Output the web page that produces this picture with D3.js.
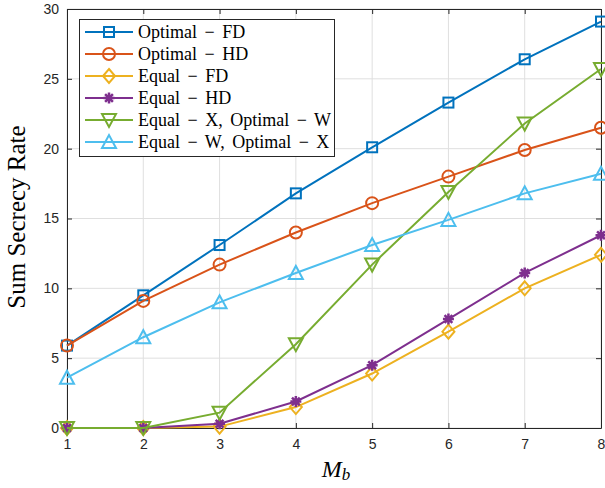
<!DOCTYPE html>
<html><head><meta charset="utf-8">
<script src="https://cdn.jsdelivr.net/npm/d3@7"></script>
<style>body{margin:0;background:#fff}svg{display:block}</style>
</head><body><svg id="c" width="605" height="488"></svg>
<script>
const xValues = [1,2,3,4,5,6,7,8];
const seriesNames = ["Optimal − FD","Optimal − HD","Equal − FD","Equal − HD","Equal − X, Optimal − W","Equal − W, Optimal − X"];
const optimalFD = [5.9,9.5,13.1,16.8,20.1,23.3,26.4,29.1];
const optimalHD = [5.9,9.1,11.7,14.0,16.1,18.0,19.9,21.5];
const equalFD = [0,0,0.1,1.5,3.9,6.9,10.0,12.4];
const equalHD = [0,0,0.3,1.9,4.5,7.8,11.1,13.8];
const equalXoptW = [0,0,1.1,6.0,11.7,16.9,21.8,25.7];
const equalWoptX = [3.6,6.5,9.0,11.1,13.1,14.9,16.8,18.2];
const xTicks = [1,2,3,4,5,6,7,8];
const yTicks = [0,5,10,15,20,25,30];

const colors = ["#0072BD","#D95319","#EDB120","#7E2F8E","#77AC30","#4DBEEE"];
const markers = ["square","circle","diamond","asterisk","tridown","triup"];
const allData = [optimalFD,optimalHD,equalFD,equalHD,equalXoptW,equalWoptX];

const svg = d3.select("#c");
const L=67,R=601,T=9,B=428;
const x = d3.scaleLinear().domain([1,8]).range([L,R]);
const y = d3.scaleLinear().domain([0,30]).range([B,T]);

// grid
svg.append("g").selectAll("line").data(xTicks).join("line")
 .attr("x1",d=>x(d)).attr("x2",d=>x(d)).attr("y1",T).attr("y2",B)
 .attr("stroke","#dfdfdf").attr("stroke-width",1);
svg.append("g").selectAll("line").data(yTicks).join("line")
 .attr("y1",d=>y(d)).attr("y2",d=>y(d)).attr("x1",L).attr("x2",R)
 .attr("stroke","#dfdfdf").attr("stroke-width",1);

// axes
const fmt = d3.format("d");
const ax = svg.append("g").attr("transform",`translate(0,${B})`)
 .call(d3.axisBottom(x).tickValues(xTicks).tickFormat(fmt).tickSizeInner(-5).tickSizeOuter(0).tickPadding(11));
const ay = svg.append("g").attr("transform",`translate(${L},0)`)
 .call(d3.axisLeft(y).tickValues(yTicks).tickFormat(fmt).tickSizeInner(-5).tickSizeOuter(0).tickPadding(8));
const axT = svg.append("g").attr("transform",`translate(0,${T})`)
 .call(d3.axisTop(x).tickValues(xTicks).tickSizeInner(-5).tickSizeOuter(0).tickFormat(""));
const ayR = svg.append("g").attr("transform",`translate(${R},0)`)
 .call(d3.axisRight(y).tickValues(yTicks).tickSizeInner(-5).tickSizeOuter(0).tickFormat(""));
[ax,ay,axT,ayR].forEach(g=>{
  g.select(".domain").attr("stroke","#262626");
  g.selectAll(".tick line").attr("stroke","#262626");
  g.selectAll("text").attr("fill","#262626").style("font-family","Liberation Sans, Arial, sans-serif").style("font-size","14px");
});

function drawMarker(g, type, cx, cy, color){
  const sw=2;
  if(type==="square"){
    g.append("rect").attr("x",cx-5).attr("y",cy-5).attr("width",10).attr("height",10)
     .attr("fill","none").attr("stroke",color).attr("stroke-width",sw);
  } else if(type==="circle"){
    g.append("circle").attr("cx",cx).attr("cy",cy).attr("r",6)
     .attr("fill","none").attr("stroke",color).attr("stroke-width",sw);
  } else if(type==="diamond"){
    g.append("path").attr("d",`M${cx},${cy-7}L${cx+6},${cy}L${cx},${cy+7}L${cx-6},${cy}Z`)
     .attr("fill","none").attr("stroke",color).attr("stroke-width",sw);
  } else if(type==="asterisk"){
    const r=5.5; let d="";
    for(let k=0;k<4;k++){const a=k*Math.PI/4;d+=`M${cx-r*Math.cos(a)},${cy-r*Math.sin(a)}L${cx+r*Math.cos(a)},${cy+r*Math.sin(a)}`;}
    g.append("path").attr("d",d).attr("stroke",color).attr("stroke-width",2.5).attr("fill","none");
  } else if(type==="tridown"){
    g.append("path").attr("d",`M${cx-7},${cy-6}L${cx+7},${cy-6}L${cx},${cy+7}Z`)
     .attr("fill","none").attr("stroke",color).attr("stroke-width",sw);
  } else if(type==="triup"){
    g.append("path").attr("d",`M${cx-7},${cy+6}L${cx+7},${cy+6}L${cx},${cy-7}Z`)
     .attr("fill","none").attr("stroke",color).attr("stroke-width",sw);
  }
}

const line = d3.line().x((d,i)=>x(xValues[i])).y(d=>y(d));
allData.forEach((vals,si)=>{
  const g = svg.append("g");
  g.append("path").datum(vals).attr("d",line).attr("fill","none")
   .attr("stroke",colors[si]).attr("stroke-width",2);
  vals.forEach((v,i)=>drawMarker(g,markers[si],x(xValues[i]),y(v),colors[si]));
});

// legend
const lg = svg.append("g");
lg.append("rect").attr("x",79.5).attr("y",19.5).attr("width",255).attr("height",137)
 .attr("fill","#fff").attr("stroke","#262626").attr("stroke-width",1);
seriesNames.forEach((n,i)=>{
  const yy = 32 + i*22;
  lg.append("line").attr("x1",85).attr("x2",133).attr("y1",yy).attr("y2",yy)
   .attr("stroke",colors[i]).attr("stroke-width",2);
  drawMarker(lg,markers[i],109,yy,colors[i]);
  lg.append("text").attr("x",138).attr("y",yy+5.5).text(n)
   .style("font-family","Liberation Serif, Times New Roman, serif").style("font-size","18px")
   .style("word-spacing","3px").attr("fill","#000");
});

// labels
svg.append("text").attr("transform",`translate(25,217) rotate(-90)`).attr("text-anchor","middle")
 .style("font-family","Liberation Serif, serif").style("font-size","25px").text("Sum Secrecy Rate");
const xl = svg.append("text").attr("x",336).attr("y",477).attr("text-anchor","middle")
 .style("font-family","Liberation Serif, serif").style("font-size","24px").style("font-style","italic");
xl.append("tspan").text("M");
xl.append("tspan").attr("dy",3).style("font-size","17px").text("b");
</script></body></html>
